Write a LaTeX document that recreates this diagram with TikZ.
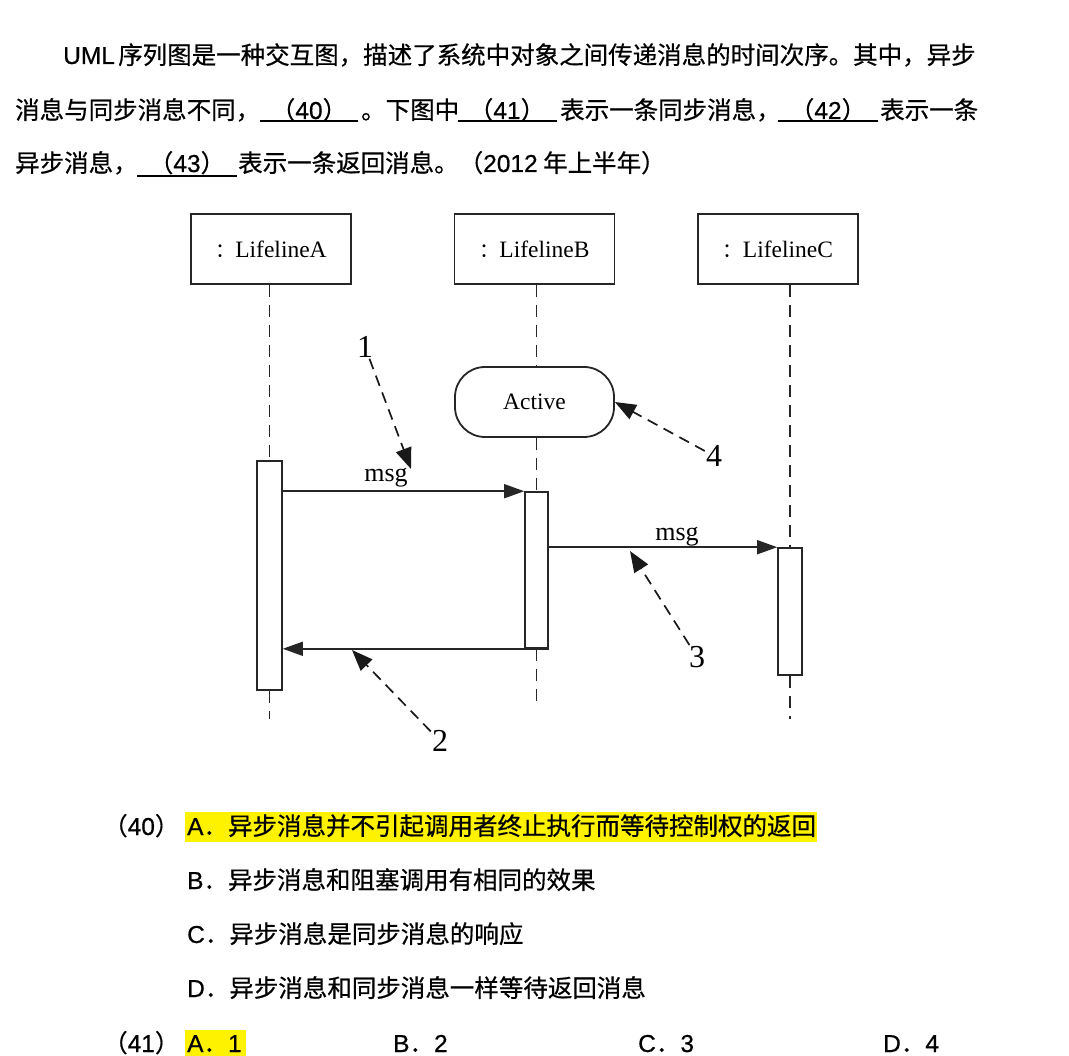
\documentclass[tikz,border=0pt]{standalone}
\usepackage{fontspec}
\setmainfont[FakeBold=0.6]{Noto Sans CJK SC}
\newfontfamily\lat[FakeBold=0.6]{Liberation Sans}
\newfontfamily\ser{Liberation Serif}
\newfontfamily\cjk{Noto Sans CJK SC}
\usetikzlibrary{arrows.meta}
\newcommand\tsz{\fontsize{24.5pt}{28pt}\selectfont}
\begin{document}
\begin{tikzpicture}[x=1pt,y=-1pt,
  txt/.style={anchor=base west,inner sep=0pt,font=\tsz},
  ctxt/.style={anchor=base,inner sep=0pt,font=\tsz},
  blank/.style={line width=1.8pt},
  lifebox/.style={draw=black!85,line width=1.8pt,minimum width=160pt,minimum height=70pt,inner sep=0pt,font=\ser\fontsize{23.5pt}{26pt}\selectfont},
  actbox/.style={draw=black!85,line width=1.6pt,fill=white,inner sep=0pt},
  life/.style={black!85,line width=1.4pt,dash pattern=on 12pt off 8pt},
  msgar/.style={black!85,line width=1.6pt,-{Triangle[length=20pt,width=14pt]}},
  ptr/.style={black!90,line width=1.7pt,dash pattern=on 11pt off 7pt,-{Triangle[length=21pt,width=16pt]}},
  num/.style={inner sep=1pt,font=\ser\fontsize{32pt}{34pt}\selectfont},
  mlab/.style={inner sep=0pt,font=\ser\fontsize{26pt}{28pt}\selectfont},
  hl/.style={fill=yellow,draw=none}]
\useasboundingbox (0,0) rectangle (1069,1056);

% ---- question text ----
\node[txt] (t1a) at (63,64) {\lat UML};
\node[txt] (t1b) at (118,64) {序列图是一种交互图，描述了系统中对象之间传递消息的时间次序。其中，异步};

\node[txt] (t2a) at (15,119) {消息与同步消息不同，};
\node[ctxt] (b40) at (309,119) {（{\lat 40}）};
\draw[blank] (260,121) -- (358,121);
\node[txt] (t2b) at (361,119) {。下图中};
\node[ctxt] (b41) at (507,119) {（{\lat 41}）};
\draw[blank] (458,121) -- (557,121);
\node[txt] (t2c) at (560,119) {表示一条同步消息，};
\node[ctxt] (b42) at (828,119) {（{\lat 42}）};
\draw[blank] (778,121) -- (878,121);
\node[txt] (t2d) at (880,119) {表示一条};

\node[txt] (t3a) at (15,172) {异步消息，};
\node[ctxt] (b43) at (187,172) {（{\lat 43}）};
\draw[blank] (137,176) -- (237,176);
\node[txt] (t3b) at (238,172) {表示一条返回消息。（{\lat 2012} 年上半年）};

% ---- sequence diagram ----
\node[lifebox] (boxA) at (271,249) {{\cjk\fontsize{20pt}{20pt}\selectfont ：}LifelineA};
\node[lifebox] (boxB) at (534.5,249) {{\cjk\fontsize{20pt}{20pt}\selectfont ：}LifelineB};
\node[lifebox] (boxC) at (778,249) {{\cjk\fontsize{20pt}{20pt}\selectfont ：}LifelineC};

\node[draw=black!85,line width=1.8pt,rounded corners=30pt,minimum width=159pt,minimum height=70pt,inner sep=0pt,
      font=\ser\fontsize{23.5pt}{26pt}\selectfont] (active) at (534.5,402) {Active};

\node[actbox,minimum width=25pt,minimum height=229pt] (actA) at (269.5,575.5) {};
\node[actbox,minimum width=23pt,minimum height=156pt] (actB) at (536.5,570) {};
\node[actbox,minimum width=24pt,minimum height=127pt] (actC) at (790,611.5) {};

% lifelines
\draw[life] (actA.north |- boxA.south) -- (actA.north);
\draw[life] (actA.south) -- ++(0,28);
\draw[life] (actB.north |- boxB.south) -- (actB.north |- active.north);
\draw[life] (actB.north |- active.south) -- (actB.north);
\draw[life] (actB.south) -- ++(0,57);
\draw[life] (actC.north |- boxC.south) -- (actC.north);
\draw[life] (actC.south) -- ++(0,43);

% messages
\draw[msgar] (actA.east |- actB.north) -- (actB.north west);
\draw[msgar] (actB.east |- actC.north) -- (actC.north west);
\draw[msgar] (actB.south east) -- (actA.east |- actB.south);
\node[mlab] (m1) at (386,478) {msg};
\node[mlab] (m2) at (677,537) {msg};

% pointers
\node[num] (n1) at (365,347) {1};
\node[num] (n2) at (440,741) {2};
\node[num] (n3) at (697,657) {3};
\node[num] (n4) at (714,456) {4};
\coordinate (p1) at (411,469);
\coordinate (p2) at (352,650);
\coordinate (p3) at (630,551);
\draw[ptr] (n1) -- (p1);
\draw[ptr] (n2) -- (p2);
\draw[ptr] (n3) -- (p3);
\draw[ptr] (n4) -- (active.east);

% ---- options ----
\fill[hl] (185,812) rectangle (817,842);
\fill[hl] (185,1030) rectangle (246,1056);
\node[txt] (q40) at (103,835) {（{\lat 40}）};
\node[txt] (oA) at (187,835) {{\lat A}．异步消息并不引起调用者终止执行而等待控制权的返回};
\node[txt] (oB) at (187,889) {{\lat B}．异步消息和阻塞调用有相同的效果};
\node[txt] (oC) at (187,943) {{\lat C}．异步消息是同步消息的响应};
\node[txt] (oD) at (187,997) {{\lat D}．异步消息和同步消息一样等待返回消息};
\node[txt] (q41) at (103,1052) {（{\lat 41}）};
\node[txt] (a1) at (187,1052) {{\lat A}．{\lat 1}};
\node[txt] (a2) at (393,1052) {{\lat B}．{\lat 2}};
\node[txt] (a3) at (638,1052) {{\lat C}．{\lat 3}};
\node[txt] (a4) at (883,1052) {{\lat D}．{\lat 4}};
\end{tikzpicture}
\end{document}
